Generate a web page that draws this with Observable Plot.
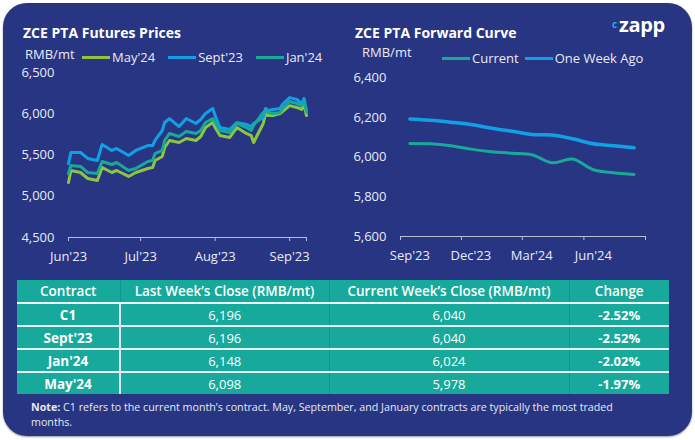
<!DOCTYPE html>
<html><head><meta charset="utf-8">
<script src="https://cdn.jsdelivr.net/npm/d3@7"></script>
<script src="https://cdn.jsdelivr.net/npm/@observablehq/plot@0.6"></script>
<style>
body{margin:0;background:#fff;width:695px;height:440px;overflow:hidden;font-family:"Open Sans",sans-serif;position:relative;}
#card{position:absolute;left:3px;top:3px;width:689px;height:433px;background:#283583;border-radius:24px;box-shadow:0 1px 2px rgba(0,0,0,0.4);}
.abs{position:absolute;white-space:nowrap;}
.title{font-weight:700;font-size:14px;line-height:14px;color:#fff;}
.unit{font-size:13px;line-height:13px;color:#e8eaf4;}
.leg{font-size:13px;line-height:13px;color:#e8eaf4;display:flex;align-items:center;}
.leg .sw{display:inline-block;width:28px;height:3px;margin-right:2px;}
.leg .it{display:flex;align-items:center;}
#chart1,#chart2{position:absolute;top:50px;}
#chart1{left:0;} #chart2{left:340px;}
table{position:absolute;left:17px;top:280px;width:652px;border-collapse:collapse;background:#17a99b;color:#fff;table-layout:fixed;}
th,td{text-align:center;padding:0;line-height:16px;}
th{font-weight:600;font-size:13.5px;height:22px;border-bottom:2px solid #f2f6f6;border-left:1px solid rgba(0,60,60,0.18);}
td{font-size:13px;height:21px;border-top:2px solid #e9f1f1;border-left:1px solid rgba(0,60,60,0.18);}
th:first-child,td:first-child{border-left:none;}
td:first-child{font-weight:700;font-size:13.5px;border-right:2px solid #dfe6ea;}
td.chg{font-weight:700;font-size:13px;}
#note{position:absolute;left:31px;top:400px;font-size:10.7px;line-height:14.5px;color:#e6e8f2;white-space:nowrap;}
</style></head>
<body>
<div id="card"></div>
<div class="abs title" style="left:23px;top:25.5px;">ZCE PTA Futures Prices</div>
<div class="abs title" style="left:355px;top:25.5px;">ZCE PTA Forward Curve</div>
<div class="abs" style="left:612px;top:19px;font-size:10px;line-height:10px;font-weight:700;color:#29abe2;">c</div>
<div class="abs" style="left:619px;top:15px;font-size:20px;line-height:20px;font-weight:700;color:#fff;letter-spacing:-0.3px;">zapp</div>
<div class="abs unit" style="left:25px;top:47.5px;">RMB/mt</div>
<div class="abs unit" style="left:362px;top:45.5px;">RMB/mt</div>
<div id="leg1" class="abs leg" style="left:82px;top:50.5px;"></div>
<div id="leg2" class="abs leg" style="left:442px;top:52px;"></div>
<div id="chart1"></div>
<div id="chart2"></div>
<div id="tbl"></div>
<div id="note"><b>Note:</b> C1 refers to the current month’s contract. May, September, and January contracts are typically the most traded<br>months.</div>
<script>
// ---------- Futures prices (daily closes, RMB/mt) ----------
const futDates = ["2023-06-01","2023-06-02","2023-06-06","2023-06-09","2023-06-13","2023-06-15","2023-06-19","2023-06-21","2023-06-26","2023-06-29","2023-07-04","2023-07-06","2023-07-07","2023-07-10","2023-07-11","2023-07-13","2023-07-17","2023-07-20","2023-07-24","2023-07-26","2023-07-28","2023-07-31","2023-08-01","2023-08-03","2023-08-07","2023-08-10","2023-08-14","2023-08-16","2023-08-17","2023-08-21","2023-08-22","2023-08-23","2023-08-25","2023-08-28","2023-08-29","2023-09-01","2023-09-04","2023-09-06","2023-09-07","2023-09-08"];
const may24 = [5167,5312,5288,5215,5191,5349,5288,5312,5240,5288,5336,5349,5433,5482,5591,5676,5652,5700,5676,5724,5833,5894,5833,5736,5712,5833,5761,5736,5652,5882,6003,5979,5979,6003,6027,6098,6076,6052,6112,5978];
const sept23 = [5397,5530,5530,5458,5433,5627,5555,5579,5494,5555,5615,5615,5676,5797,5894,5942,5845,5942,5882,5930,6003,6064,5979,5833,5809,5894,5870,5845,5882,5955,6064,6039,6052,6064,6112,6196,6173,6124,6185,6040];
const jan24 = [5276,5373,5361,5288,5276,5421,5385,5409,5312,5336,5421,5433,5518,5555,5676,5761,5724,5785,5761,5797,5894,5942,5894,5797,5773,5882,5833,5797,5858,6015,6039,6015,6003,6015,6064,6148,6124,6100,6148,6024];
const futSeries = ["May'24","Sept'23","Jan'24"];
const futColors = ["#8cc63f","#12a0e4","#18a999"];
const futTickDates = ["2023-06-01","2023-07-01","2023-08-01","2023-09-01"];
const futTickLabels = ["Jun'23","Jul'23","Aug'23","Sep'23"];
const futYTicks = [4500,5000,5500,6000,6500];

// ---------- Forward curve ----------
const fwdMonths = ["2023-09-15","2023-10-15","2023-11-15","2023-12-15","2024-01-15","2024-02-15","2024-03-15","2024-04-15","2024-05-15","2024-06-15","2024-07-15","2024-08-15"];
const fwdCurrent = [6070,6068,6058,6041,6028,6020,6013,5972,5991,5937,5922,5913];
const fwdWeekAgo = [6193,6187,6177,6165,6146,6131,6115,6112,6093,6068,6058,6048];
const fwdSeries = ["Current","One Week Ago"];
const fwdColors = ["#18a999","#12a0e4"];
const fwdTickDates = ["2023-09-01","2023-12-01","2024-03-01","2024-06-01","2024-09-01"];
const fwdLabelDates = ["2023-09-15","2023-12-15","2024-03-15","2024-06-15"];
const fwdTickLabels = ["Sep'23","Dec'23","Mar'24","Jun'24"];
const fwdYTicks = [5600,5800,6000,6200,6400];

// ---------- Table ----------
const tblHeader = ["Contract","Last Week’s Close (RMB/mt)","Current Week’s Close (RMB/mt)","Change"];
const contracts = ["C1","Sept'23","Jan'24","May'24"];
const lastWeek = ["6,196","6,196","6,148","6,098"];
const currentWeek = ["6,040","6,040","6,024","5,978"];
const changes = ["-2.52%","-2.52%","-2.02%","-1.97%"];

const axisColor = "#b9bdd3";
const textColor = "#e8eaf4";
const fmt = d3.format(",");

// legends
function legend(id, names, colors){
  const el = document.getElementById(id);
  names.forEach((n,i)=>{
    const it = document.createElement("span");
    it.className = "it";
    it.style.marginRight = "13px";
    it.innerHTML = `<span class="sw" style="background:${colors[i]}"></span><span>${n}</span>`;
    el.appendChild(it);
  });
}
legend("leg1", futSeries, futColors);
legend("leg2", fwdSeries, fwdColors);
document.querySelector("#leg2 .it").style.marginRight = "6px";

// chart 1
const fut = futDates.map((d,i)=>({date:new Date(d), may:may24[i], sep:sept23[i], jan:jan24[i]}));
const futLabelMap = new Map(futTickDates.map((d,i)=>[+new Date(d), futTickLabels[i]]));
const futEnd = new Date(futDates[futDates.length-1]);
const c1 = Plot.plot({
  width:340, height:220, marginLeft:68, marginRight:34, marginTop:22, marginBottom:33,
  style:{background:"transparent", color:textColor, fontSize:"13px", fontFamily:"Open Sans"},
  x:{type:"utc", domain:[new Date(futDates[0]), futEnd]},
  y:{domain:[4500,6500]},
  marks:[
    Plot.axisY({ticks:futYTicks, tickSize:0, tickPadding:14, tickFormat:fmt, label:null, fill:textColor}),
    Plot.axisX({ticks:[...futTickDates.map(d=>new Date(d)), futEnd], tickSize:4, tickPadding:10, label:null, stroke:axisColor, strokeOpacity:1, fill:textColor,
      tickFormat:d=>futLabelMap.get(+d) ?? ""}),
    Plot.ruleY([4500], {stroke:axisColor, strokeWidth:1.2}),
    Plot.line(fut, {x:"date", y:"may", stroke:futColors[0], strokeWidth:3}),
    Plot.line(fut, {x:"date", y:"sep", stroke:futColors[1], strokeWidth:3}),
    Plot.line(fut, {x:"date", y:"jan", stroke:futColors[2], strokeWidth:3})
  ]
});
document.getElementById("chart1").appendChild(c1);

// chart 2
const fwd = fwdMonths.map((d,i)=>({date:new Date(d), cur:fwdCurrent[i], ago:fwdWeekAgo[i]}));
const c2 = Plot.plot({
  width:355, height:220, marginLeft:60, marginRight:50, marginTop:27.5, marginBottom:34,
  style:{background:"transparent", color:textColor, fontSize:"13px", fontFamily:"Open Sans"},
  x:{type:"utc", domain:[new Date(fwdTickDates[0]), new Date(fwdTickDates[fwdTickDates.length-1])]},
  y:{domain:[5600,6400]},
  marks:[
    Plot.axisY({ticks:fwdYTicks, tickSize:0, tickPadding:14, tickFormat:fmt, label:null, fill:textColor}),
    Plot.axisX({ticks:fwdTickDates.map(d=>new Date(d)), tickSize:4, tickFormat:()=>"", label:null, stroke:axisColor, strokeOpacity:1}),
    Plot.axisX({ticks:fwdLabelDates.map(d=>new Date(d)), tickSize:0, tickPadding:14, label:null, fill:textColor,
      tickFormat:(d,i)=>fwdTickLabels[i]}),
    Plot.ruleY([5600], {stroke:axisColor, strokeWidth:1.2}),
    Plot.line(fwd, {x:"date", y:"cur", stroke:fwdColors[0], strokeWidth:3, curve:"catmull-rom"}),
    Plot.line(fwd, {x:"date", y:"ago", stroke:fwdColors[1], strokeWidth:3.5, curve:"catmull-rom"})
  ]
});
document.getElementById("chart2").appendChild(c2);

// table
const colW = [103,209,240,100];
let html = "<table><colgroup>" + colW.map(w=>`<col style="width:${w}px">`).join("") + "</colgroup><tr>" +
  tblHeader.map(h=>`<th>${h}</th>`).join("") + "</tr>";
contracts.forEach((c,i)=>{
  html += `<tr><td>${c}</td><td>${lastWeek[i]}</td><td>${currentWeek[i]}</td><td class="chg">${changes[i]}</td></tr>`;
});
html += "</table>";
document.getElementById("tbl").innerHTML = html;
</script>
</body></html>
